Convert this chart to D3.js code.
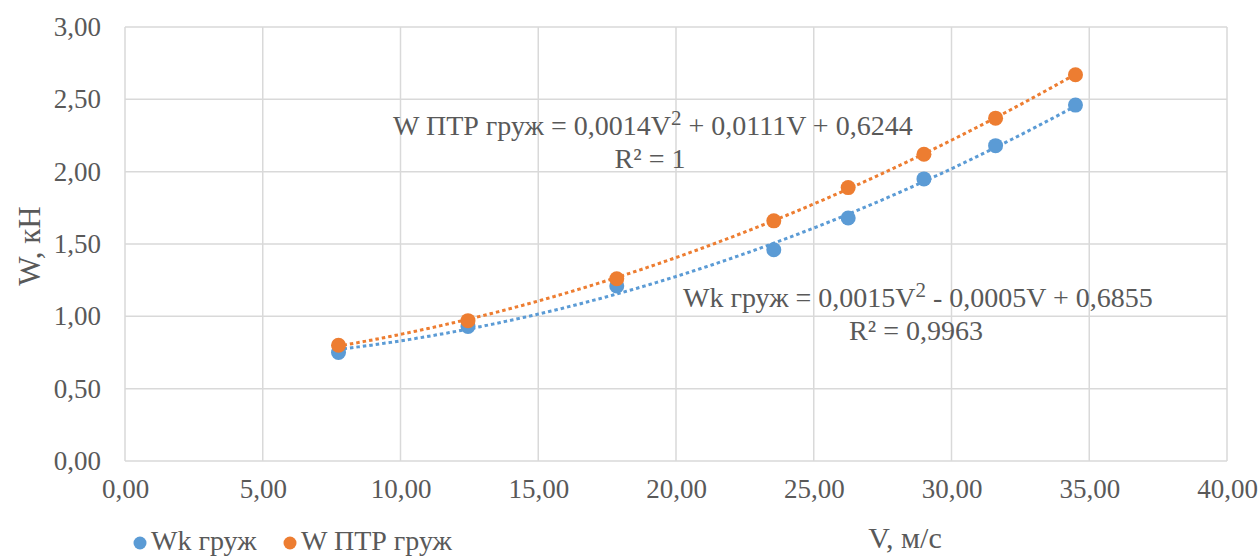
<!DOCTYPE html>
<html>
<head>
<meta charset="utf-8">
<script src="https://cdn.jsdelivr.net/npm/d3@7"></script>
<style>
  body { margin: 0; background: #fff; }
  text { font-family: "Liberation Serif", "Times New Roman", serif; fill: #595959; }
</style>
</head>
<body>
<div id="chart"></div>
<script>
// Data
var speeds = [7.75, 12.45, 17.85, 23.55, 26.25, 29.0, 31.6, 34.5]
var wkValues = [0.75, 0.93, 1.21, 1.46, 1.68, 1.95, 2.18, 2.46]
var wPtrValues = [0.80, 0.97, 1.26, 1.66, 1.89, 2.12, 2.37, 2.67]

// trend coefficients as printed on the chart (a*V^2 + b*V + c)
var wkTrend = [0.0015, -0.0005, 0.6855]
var wPtrTrend = [0.0014, 0.0111, 0.6244]

var xTicks = [0, 5, 10, 15, 20, 25, 30, 35, 40]
var yTicks = [0, 0.5, 1, 1.5, 2, 2.5, 3]

var chart = { width: 1259, height: 556 }
var margin = { left: 125, right: 32, top: 27, bottom: 95 }

var svg = d3.select('#chart')
  .append('svg')
    .attr('width', chart.width)
    .attr('height', chart.height)

var x = d3.scaleLinear().domain([0, 40]).range([margin.left, chart.width - margin.right])
var y = d3.scaleLinear().domain([0, 3]).range([chart.height - margin.bottom, margin.top])

var fmt = (d) => d3.format('.2f')(d).replace('.', ',')

// grid
svg.append('g').selectAll('line.h')
  .data(yTicks)
  .enter()
  .append('line')
    .attr('x1', x(0)).attr('x2', x(40))
    .attr('y1', (d) => y(d)).attr('y2', (d) => y(d))
    .attr('stroke', '#d9d9d9').attr('stroke-width', 1.5)

svg.append('g').selectAll('line.v')
  .data(xTicks)
  .enter()
  .append('line')
    .attr('y1', y(0)).attr('y2', y(3))
    .attr('x1', (d) => x(d)).attr('x2', (d) => x(d))
    .attr('stroke', '#d9d9d9').attr('stroke-width', 1.5)

// axes (labels only, Excel style)
var xAxis = svg.append('g')
  .attr('transform', `translate(0, ${y(0)})`)
  .call(d3.axisBottom(x).tickValues(xTicks).tickFormat(fmt).tickSize(0).tickPadding(18))
var yAxis = svg.append('g')
  .attr('transform', `translate(${x(0)}, 0)`)
  .call(d3.axisLeft(y).tickValues(yTicks).tickFormat(fmt).tickSize(0).tickPadding(24))

;[xAxis, yAxis].forEach((g) => {
  g.select('.domain').remove()
  g.selectAll('text')
    .attr('font-size', 27)
    .attr('fill', '#595959')
})

// axis titles
svg.append('text')
  .attr('x', 905).attr('y', 548)
  .attr('text-anchor', 'middle')
  .attr('font-size', 30)
  .text('V, м/с')

svg.append('text')
  .attr('transform', 'translate(40, 246) rotate(-90)')
  .attr('text-anchor', 'middle')
  .attr('font-size', 31)
  .text('W, кН')

// trend lines
var series = [
  { name: 'Wk груж', values: wkValues, trend: wkTrend, color: '#5B9BD5' },
  { name: 'W ПТР груж', values: wPtrValues, trend: wPtrTrend, color: '#ED7D31' },
]

var vMin = d3.min(speeds), vMax = d3.max(speeds)
var steps = d3.range(vMin, vMax + 0.01, 0.25)

series.forEach((s) => {
  var poly = (v) => s.trend[0] * v * v + s.trend[1] * v + s.trend[2]
  var line = d3.line().x((v) => x(v)).y((v) => y(poly(v)))
  svg.append('path')
    .attr('d', line(steps))
    .attr('fill', 'none')
    .attr('stroke', s.color)
    .attr('stroke-width', 3)
    .attr('stroke-linecap', 'square')
    .attr('stroke-dasharray', '0.5 6')
})

// markers
series.forEach((s) => {
  svg.append('g').selectAll('circle')
    .data(speeds.map((v, i) => [v, s.values[i]]))
    .enter()
    .append('circle')
      .attr('cx', (d) => x(d[0]))
      .attr('cy', (d) => y(d[1]))
      .attr('r', 7.5)
      .attr('fill', s.color)
})

// equation labels
function equation(px, py, pre, a, rest, r2x, r2, fs) {
  var t = svg.append('text').attr('x', px).attr('y', py).attr('font-size', fs)
  t.append('tspan').text(pre + a + 'V')
  t.append('tspan').attr('dy', -10).attr('font-size', fs * 0.75).text('2')
  t.append('tspan').attr('dy', 10).text(rest)
  svg.append('text').attr('x', r2x).attr('y', py + 33).attr('font-size', fs)
    .attr('text-anchor', 'middle').text(r2)
}

equation(393, 135, 'W ПТР груж = ', '0,0014', ' + 0,0111V + 0,6244', 650, 'R² = 1', 28)
equation(683, 307, 'Wk груж = ', '0,0015', ' - 0,0005V + 0,6855', 916, 'R² = 0,9963', 28)

// legend
var legend = svg.append('g')
var legendX = [140, 290]
series.forEach((s, i) => {
  legend.append('circle').attr('cx', legendX[i]).attr('cy', 543).attr('r', 6.5).attr('fill', s.color)
  legend.append('text').attr('x', legendX[i] + 11).attr('y', 550).attr('font-size', 28).text(s.name)
})
</script>
</body>
</html>
